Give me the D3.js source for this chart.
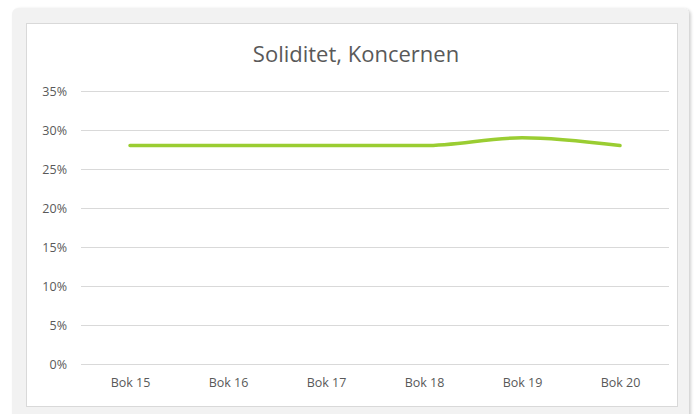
<!DOCTYPE html>
<html>
<head>
<meta charset="utf-8">
<script src="https://cdn.jsdelivr.net/npm/d3@7"></script>
<style>
  body { margin: 0; background: #ffffff; }
  .axis text { font-family: 'Open Sans', 'Liberation Sans', sans-serif; font-size: 12.5px; fill: #595959; }
</style>
</head>
<body>
<div id="main"></div>
<script>
'use strict';

// data
const categories = ['Bok 15', 'Bok 16', 'Bok 17', 'Bok 18', 'Bok 19', 'Bok 20'];
const soliditet = [0.28, 0.28, 0.28, 0.28, 0.29, 0.28];
const yTicks = [0, 0.05, 0.10, 0.15, 0.20, 0.25, 0.30, 0.35];
const title = 'Soliditet, Koncernen';

// configuration
const canvas = {
  width: 697,
  height: 414,
  plot: { left: 81, right: 669, top: 91, bottom: 364 }
};

const svg = d3.select('#main')
  .append('svg')
  .attr('width', canvas.width)
  .attr('height', canvas.height);

// shadow for the outer panel
const defs = svg.append('defs');
const f = defs.append('filter').attr('id', 'shadow').attr('x', '-5%').attr('y', '-5%').attr('width', '110%').attr('height', '110%');
f.append('feDropShadow').attr('dx', 2).attr('dy', 1).attr('stdDeviation', 1.5).attr('flood-color', '#000').attr('flood-opacity', 0.18);

// outer gray panel
svg.append('rect')
  .attr('x', 12).attr('y', 8)
  .attr('width', 677).attr('height', 420)
  .attr('rx', 6)
  .attr('fill', '#f2f2f2')
  .attr('filter', 'url(#shadow)');

// white chart area
svg.append('rect')
  .attr('x', 26.5).attr('y', 23.5)
  .attr('width', 651).attr('height', 383)
  .attr('fill', '#ffffff')
  .attr('stroke', '#d9d9d9')
  .attr('stroke-width', 1);

// scales
const x = d3.scalePoint()
  .domain(categories)
  .range([canvas.plot.left, canvas.plot.right])
  .padding(0.5);

const y = d3.scaleLinear()
  .domain([0, 0.35])
  .range([canvas.plot.bottom, canvas.plot.top]);

// gridlines
svg.append('g')
  .selectAll('line')
  .data(yTicks)
  .join('line')
  .attr('x1', canvas.plot.left)
  .attr('x2', canvas.plot.right)
  .attr('y1', d => Math.round(y(d)) + 0.5)
  .attr('y2', d => Math.round(y(d)) + 0.5)
  .attr('stroke', '#d9d9d9')
  .attr('stroke-width', 1);

// y axis
const yAxis = svg.append('g')
  .attr('class', 'axis')
  .attr('transform', 'translate(' + (canvas.plot.left - 14) + ',0)')
  .call(d3.axisLeft(y).tickValues(yTicks).tickFormat(d3.format('.0%')).tickSize(0).tickPadding(0));
yAxis.select('.domain').remove();

// x axis
const xAxis = svg.append('g')
  .attr('class', 'axis')
  .attr('transform', 'translate(0,' + (canvas.plot.bottom + 14) + ')')
  .call(d3.axisBottom(x).tickSize(0).tickPadding(0));
xAxis.select('.domain').remove();
xAxis.selectAll('text').attr('dy', '0.71em');

// line
const line = d3.line()
  .x((d, i) => x(categories[i]))
  .y(d => y(d))
  .curve(d3.curveMonotoneX);

svg.append('path')
  .datum(soliditet)
  .attr('d', line)
  .attr('fill', 'none')
  .attr('stroke', '#9acd32')
  .attr('stroke-width', 3.5)
  .attr('stroke-linecap', 'round');

// title
svg.append('text')
  .attr('x', 356)
  .attr('y', 62)
  .attr('text-anchor', 'middle')
  .style('font-family', "'Open Sans', 'Liberation Sans', sans-serif")
  .style('font-size', '22px')
  .style('fill', '#595959')
  .text(title);
</script>
</body>
</html>
